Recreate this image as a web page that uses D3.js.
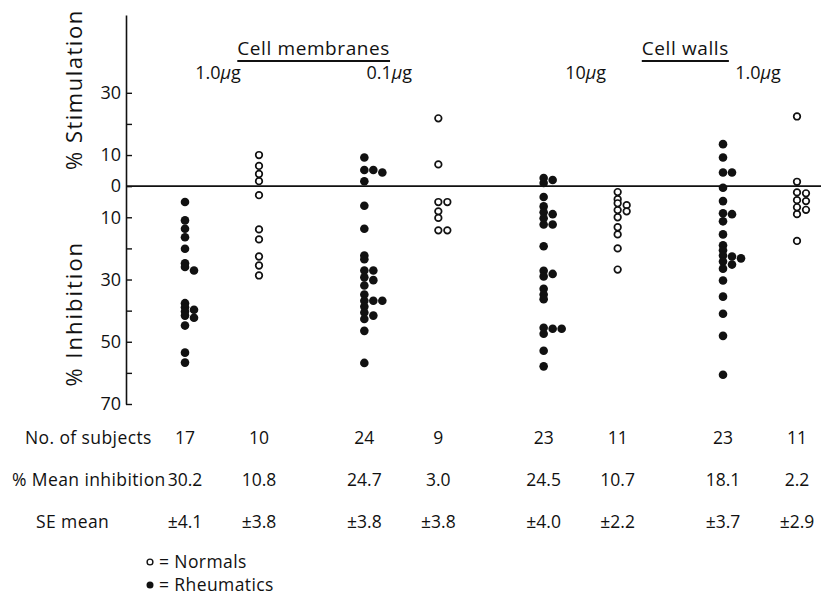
<!DOCTYPE html>
<html>
<head>
<meta charset="utf-8">
<script src="https://cdn.jsdelivr.net/npm/d3@7"></script>
<style>
  body { margin: 0; background: #fff; }
  svg text { font-family: "Open Sans", "Noto Sans", sans-serif; fill: #111; }
</style>
</head>
<body>
<div id="chart"></div>
<script>
// groups and their dose labels
const groups = ["cm1", "cm01", "cw10", "cw1"];
const doseLabels = ["1.0", "0.1", "10", "1.0"];
const series = ["Rheumatics", "Normals"];

// % stimulation (+) / % inhibition (-) for each subject
const rheumatics = [
    [-5.1, -11.0, -13.7, -16.4, -20.1, -24.8, -26.0, -27.1, -37.6, -38.9, -39.7, -40.3, -41.6, -42.3, -44.8, -53.5, -56.7],
    [9.2, 5.2, 5.2, 4.4, 1.6, -6.3, -13.7, -22.3, -23.5, -27.1, -27.1, -29.3, -30.2, -31.9, -34.8, -36.8, -36.8, -36.8, -38.7, -40.6, -41.6, -42.7, -46.5, -56.8],
    [2.6, 2.0, 1.0, -3.5, -6.5, -8.4, -9.0, -10.3, -12.3, -12.3, -19.3, -27.2, -28.2, -29.0, -33.0, -34.8, -36.3, -45.5, -45.8, -45.8, -47.4, -52.9, -57.9],
    [13.5, 9.2, 4.4, 4.4, -0.5, -4.8, -8.7, -9.0, -11.3, -15.5, -19.0, -20.6, -22.3, -22.6, -23.2, -24.2, -25.2, -26.5, -30.3, -35.5, -41.0, -48.1, -60.6]
];
const normals = [
    [10.0, 6.5, 3.9, 1.6, -2.9, -13.9, -17.1, -22.6, -25.5, -28.7],
    [21.8, 7.0, -5.1, -5.1, -8.1, -10.2, -14.2, -14.2],
    [-1.9, -4.2, -5.5, -6.1, -7.7, -8.1, -10.0, -13.2, -15.5, -20.0, -26.8],
    [22.4, 1.4, -2.0, -2.3, -4.5, -4.8, -6.8, -7.6, -9.0, -17.6]
];

// table under the plot, one entry per column (rheumatics, normals per group)
const subjectCounts = ["17", "10", "24", "9", "23", "11", "23", "11"];
const meanInhibition = ["30.2", "10.8", "24.7", "3.0", "24.5", "10.7", "18.1", "2.2"];
const seMean = ["4.1", "3.8", "3.8", "3.8", "4.0", "2.2", "3.7", "2.9"];

const yTicks = [30, 20, 10, 0, -10, -20, -30, -40, -50, -60, -70];
const yTickLabels = ["30", "", "10", "0", "10", "", "30", "", "50", "", "70"];

const width = 821, height = 597;

const svg = d3.select("#chart").append("svg")
    .attr("width", width)
    .attr("height", height);

const y = d3.scaleLinear().domain([-70, 55]).range([404, 15]);
const xGroup = d3.scalePoint().domain(groups).range([222, 760]);
const xSeries = d3.scalePoint().domain(series).range([-37, 37]);
const colX = (gi, si) => xGroup(groups[gi]) + xSeries(series[si]);

// y axis, ticks pointing inward
const yAxis = d3.axisLeft(y)
    .tickValues(yTicks)
    .tickFormat((d, i) => yTickLabels[i])
    .tickSizeInner(-6)
    .tickSizeOuter(0)
    .tickPadding(5);

const axisG = svg.append("g")
    .attr("transform", "translate(126,0)")
    .call(yAxis);
axisG.select(".domain").attr("stroke", "#111").attr("stroke-width", 1.6);
axisG.selectAll(".tick line").attr("stroke", "#111").attr("stroke-width", 1.4);
axisG.selectAll(".tick text")
    .attr("font-size", 18)
    .attr("fill", "#111")
    .style("font-family", "'Open Sans', sans-serif");

// zero line
svg.append("line")
    .attr("x1", 126).attr("x2", width)
    .attr("y1", y(0)).attr("y2", y(0))
    .attr("stroke", "#111")
    .attr("stroke-width", 1.6);

// axis titles
svg.append("text")
    .attr("transform", "translate(82," + y(31) + ") rotate(-90)")
    .attr("text-anchor", "middle")
    .attr("font-size", 22)
    .attr("letter-spacing", 1.5)
    .text("% Stimulation");
svg.append("text")
    .attr("transform", "translate(82," + y(-41) + ") rotate(-90)")
    .attr("text-anchor", "middle")
    .attr("font-size", 22)
    .attr("letter-spacing", 2)
    .text("% Inhibition");

// stack overlapping dots side by side
function placeLanes(values) {
    const placed = [];
    values.map(v => ({ v: v, y: y(v) }))
        .sort((a, b) => a.y - b.y)
        .forEach(d => {
            let lane = 0;
            while (placed.some(p => p.lane === lane && Math.abs(p.y - d.y) < 3.5)) lane++;
            d.lane = lane;
            placed.push(d);
        });
    return placed;
}

const laneStep = 9;

rheumatics.forEach((vals, gi) => {
    svg.append("g").selectAll("circle")
        .data(placeLanes(vals))
        .enter()
        .append("circle")
        .attr("cx", d => colX(gi, 0) + d.lane * laneStep)
        .attr("cy", d => d.y)
        .attr("r", 4.3)
        .attr("fill", "#111");
});

normals.forEach((vals, gi) => {
    svg.append("g").selectAll("circle")
        .data(placeLanes(vals))
        .enter()
        .append("circle")
        .attr("cx", d => colX(gi, 1) + d.lane * laneStep)
        .attr("cy", d => d.y)
        .attr("r", 3.3)
        .attr("fill", "#fff")
        .attr("stroke", "#111")
        .attr("stroke-width", 1.7);
});

// headers
const headers = [
    { text: "Cell membranes", x: (xGroup("cm1") + xGroup("cm01")) / 2 + 2 },
    { text: "Cell walls", x: (xGroup("cw10") + xGroup("cw1")) / 2 + 15 }
];
headers.forEach(h => {
    const t = svg.append("text")
        .attr("x", h.x)
        .attr("y", 55)
        .attr("text-anchor", "middle")
        .attr("font-size", 19)
        .attr("letter-spacing", 0.6)
        .text(h.text);
    const bb = t.node().getBBox();
    svg.append("line")
        .attr("x1", bb.x).attr("x2", bb.x + bb.width)
        .attr("y1", 61).attr("y2", 61)
        .attr("stroke", "#111")
        .attr("stroke-width", 1.8);
});

const doseShift = [-4, -12, 5, -2];
doseLabels.forEach((d, i) => {
    const t = svg.append("text")
        .attr("x", xGroup(groups[i]) + doseShift[i])
        .attr("y", 79)
        .attr("text-anchor", "middle")
        .attr("font-size", 18);
    t.append("tspan").text(d);
    t.append("tspan").attr("font-style", "italic").text("\u03bc");
    t.append("tspan").text("g");
});

// table rows
const rows = [
    { label: "No. of subjects", x: 25, y: 438, values: subjectCounts, prefix: "" },
    { label: "% Mean inhibition", x: 12, y: 480, values: meanInhibition, prefix: "" },
    { label: "SE  mean", x: 36, y: 522, values: seMean, prefix: "\u00b1" }
];
rows.forEach(r => {
    svg.append("text")
        .attr("x", r.x)
        .attr("y", r.y)
        .attr("dy", "0.35em")
        .attr("font-size", 17.5)
        .attr("letter-spacing", 0.4)
        .text(r.label);
    r.values.forEach((v, i) => {
        svg.append("text")
            .attr("x", colX(Math.floor(i / 2), i % 2))
            .attr("y", r.y)
            .attr("dy", "0.35em")
            .attr("text-anchor", "middle")
            .attr("font-size", 17.5)
            .text(r.prefix + v);
    });
});

// legend
const legend = [
    { label: "= Normals", filled: false, y: 562 },
    { label: "= Rheumatics", filled: true, y: 585 }
];
legend.forEach(l => {
    svg.append("circle")
        .attr("cx", 150)
        .attr("cy", l.y)
        .attr("r", l.filled ? 3.5 : 2.9)
        .attr("fill", l.filled ? "#111" : "#fff")
        .attr("stroke", "#111")
        .attr("stroke-width", l.filled ? 0 : 1.4);
    svg.append("text")
        .attr("x", 159)
        .attr("y", l.y)
        .attr("dy", "0.35em")
        .attr("font-size", 17.5)
        .attr("letter-spacing", 0.4)
        .text(l.label);
});
</script>
</body>
</html>
